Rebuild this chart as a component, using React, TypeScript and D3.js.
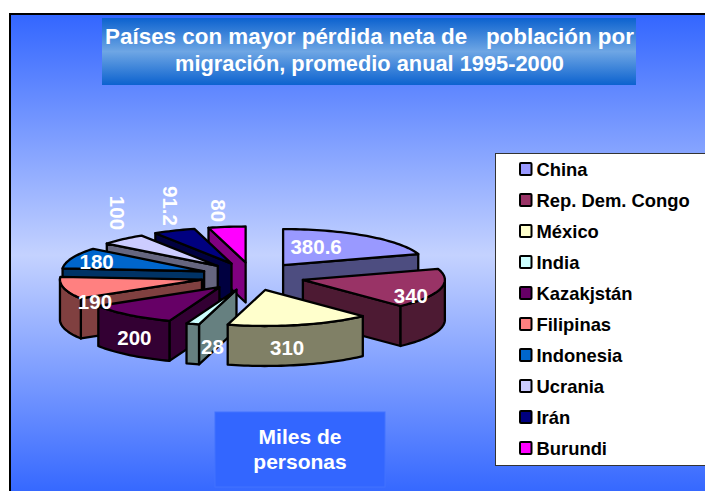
import React from "react";
import * as d3 from "d3";

const categories = ["China", "Rep. Dem. Congo", "México", "India", "Kazakjstán", "Filipinas", "Indonesia", "Ucrania", "Irán", "Burundi"];
const values = [380.6, 340, 310, 28, 200, 190, 180, 100, 91.2, 80];
const valueLabels = ["380.6", "340", "310", "28", "200", "190", "180", "100", "91.2", "80"];
const topColors = ["#9999ff", "#993366", "#ffffcc", "#ccffff", "#660066", "#ff8080", "#0066cc", "#ccccff", "#000080", "#ff00ff"];
const titleLines = ["Países con mayor pérdida neta de   población por", "migración, promedio anual 1995-2000"];
const titleSizes = [22.4, 21.8];
const noteLines = ["Miles de", "personas"];

// pie projection
const CX = 252.5, CY = 276.4, RX = 142, RY = 36, DEPTH = 40, EXPLODE_X = 52, EXPLODE_Y = 14;

// label offsets relative to each slice tip, and rotation
const labelPlace: [number, number, number][] = [
  [33, -19, 0], [108, 16, 0], [22, 58, 0], [-24, 57, 0], [-85, 50, 0],
  [-107, 22, 0], [-107.5, -9.5, 0], [-100.6, -53, 90], [-60.7, -57.6, 90], [-27.6, -51.8, 90],
];

const pieGen = d3.pie<number>().sort(null).startAngle(0).endAngle(2 * Math.PI);
const arcs = pieGen(values);

const P = (a: number, r: number) => [Math.sin(a) * r * RX, -Math.cos(a) * r * RY];

function buildSlices() {
  return arcs.map((d, i) => {
    const mid = (d.startAngle + d.endAngle) / 2;
    const tx = CX + Math.sin(mid) * EXPLODE_X;
    const ty = CY - Math.cos(mid) * EXPLODE_Y;
    const n = Math.max(4, Math.ceil((d.endAngle - d.startAngle) / 0.03));
    const ang = d3.range(n + 1).map((k) => d.startAngle + ((d.endAngle - d.startAngle) * k) / n);
    const rim = ang.map((a) => {
      const [x, y] = P(a, 1);
      return [tx + x, ty + y] as [number, number];
    });
    return { i, mid, tx, ty, ang, rim, start: d.startAngle, end: d.endAngle };
  });
}

const line = d3.line<[number, number]>();

export default function App() {
  const slices = buildSlices();
  const order = [...slices].sort((a, b) => Math.cos(b.mid) - Math.cos(a.mid));
  const legendY = d3.scalePoint<string>().domain(categories).range([169, 448]);
  const font = "'Liberation Sans', Arial, sans-serif";

  return (
    <svg width={705} height={491} style={{ position: "absolute", left: 0, top: 0, display: "block" }} fontFamily={font}>
      <defs>
        <linearGradient id="bg" x1="0" y1="0" x2="0" y2="1">
          <stop offset="0" stopColor="#3366ff" />
          <stop offset="0.5" stopColor="#c4d2ff" />
          <stop offset="1" stopColor="#3366ff" />
        </linearGradient>
        <linearGradient id="tb" x1="0" y1="0" x2="0" y2="1">
          <stop offset="0" stopColor="#0c62cf" />
          <stop offset="0.5" stopColor="#6ea6e4" />
          <stop offset="1" stopColor="#0c62cf" />
        </linearGradient>
      </defs>
      <rect x={0} y={0} width={705} height={491} fill="#fff" />
      <rect x={10} y={14} width={700} height={482} fill="url(#bg)" stroke="#000" strokeWidth={2} />
      <rect x={102} y={18} width={534} height={67} fill="url(#tb)" />
      {titleLines.map((t, i) => (
        <text key={i} x={369.5} y={44 + i * 27} textAnchor="middle" fill="#fff" fontWeight="bold" fontSize={titleSizes[i]} xmlSpace="preserve" style={{ whiteSpace: "pre" }}>{t}</text>
      ))}
      <rect x={215} y={412} width={170} height={75} fill="#3366ff" stroke="#4272ff" strokeWidth={1} />
      {noteLines.map((t, i) => (
        <text key={i} x={300} y={444 + i * 25} textAnchor="middle" fill="#fff" fontWeight="bold" fontSize={21}>{t}</text>
      ))}

      {order.map((s) => {
        const top = topColors[s.i];
        const c = d3.rgb(top);
        const dark = d3.rgb(c.r * 0.5, c.g * 0.5, c.b * 0.5).formatHex();
        const rimPts = s.rim;
        const first = rimPts[0];
        const last = rimPts[rimPts.length - 1];
        const tip: [number, number] = [s.tx, s.ty];
        const down = (p: [number, number]): [number, number] => [p[0], p[1] + DEPTH];
        const startFace = Math.sin(s.start) < -1e-6;
        const endFace = Math.sin(s.end) > 1e-6;
        // visible outer wall: lower half of the ellipse
        const wall = rimPts.filter((_, k) => Math.cos(s.ang[k]) <= 0.02);
        return (
          <g key={s.i} stroke="#000" strokeWidth={2.3} strokeLinejoin="round">
            {startFace && <path d={line([tip, first, down(first), down(tip)])! + "Z"} fill={dark} />}
            {endFace && <path d={line([tip, last, down(last), down(tip)])! + "Z"} fill={dark} />}
            {wall.length > 1 && <path d={line([...wall, ...wall.map(down).reverse()])! + "Z"} fill={dark} />}
            <path d={line([tip, ...rimPts])! + "Z"} fill={top} />
          </g>
        );
      })}

      {slices.map((s) => {
        const [dx, dy, rot] = labelPlace[s.i];
        const x = s.tx + dx, y = s.ty + dy;
        return (
          <text key={s.i} transform={`translate(${x},${y}) rotate(${rot})`} textAnchor="middle" dominantBaseline="central" fill="#fff" fontWeight="bold" fontSize={20.5}>
            {valueLabels[s.i]}
          </text>
        );
      })}

      <rect x={495.5} y={153.5} width={215} height={312} fill="#fff" stroke="#333" strokeWidth={1} />
      {categories.map((c, i) => (
        <g key={c}>
          <rect x={520} y={legendY(c)! - 6} width={11.5} height={12} fill={topColors[i]} stroke="#000" strokeWidth={2} rx={1} />
          <text x={536.5} y={legendY(c)! + 0.5} dominantBaseline="central" fontSize={18.4} fontWeight="bold" fill="#000">{c}</text>
        </g>
      ))}
    </svg>
  );
}
